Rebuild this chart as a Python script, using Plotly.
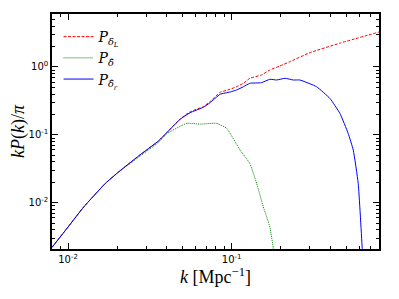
import plotly.graph_objects as go

# ---- data ----
k_blue = [0.00798, 0.01, 0.01248, 0.0169, 0.0204, 0.027, 0.0358, 0.0483, 0.0556, 0.0671,
          0.0736, 0.0849, 0.0977, 0.107, 0.118, 0.129, 0.152, 0.171, 0.188, 0.212, 0.238,
          0.261, 0.330, 0.398, 0.458, 0.515, 0.553, 0.593, 0.628, 0.635]
p_blue = [0.00221, 0.0044, 0.00871, 0.0193, 0.0286, 0.049, 0.082, 0.169, 0.212, 0.255,
          0.297, 0.396, 0.428, 0.458, 0.512, 0.575, 0.587, 0.659, 0.643, 0.681, 0.643,
          0.643, 0.512, 0.345, 0.208, 0.105, 0.0597, 0.0193, 0.0020, 0.001]

k_red = [0.00798, 0.01, 0.01248, 0.0169, 0.0204, 0.027, 0.0358, 0.0483, 0.0556, 0.0671,
         0.0736, 0.0849, 0.0977, 0.107, 0.118, 0.129, 0.152, 0.171, 0.197, 0.227, 0.301,
         0.458, 0.798]
p_red = [0.00221, 0.0044, 0.00871, 0.0193, 0.0286, 0.049, 0.082, 0.170, 0.219, 0.26,
         0.308, 0.423, 0.469, 0.512, 0.575, 0.681, 0.762, 0.903, 1.034, 1.197, 1.626,
         2.24, 3.28]

k_green = [0.00798, 0.01, 0.01248, 0.0169, 0.0204, 0.027, 0.0358, 0.0401, 0.0531, 0.064,
           0.0809, 0.0932, 0.1125, 0.129, 0.142, 0.156, 0.171, 0.179, 0.183]
p_green = [0.00221, 0.0044, 0.00871, 0.0193, 0.0284, 0.047, 0.078, 0.104, 0.148, 0.144,
           0.148, 0.125, 0.0597, 0.038, 0.0193, 0.0087, 0.00441, 0.00224, 0.001]

x_major = [0.01, 0.1]
x_major_text = ["10<sup>-2</sup>", "10<sup>-1</sup>"]
y_major = [0.01, 0.1, 1]
y_major_text = ["10<sup>-2</sup>", "10<sup>-1</sup>", "10<sup>0</sup>"]

x_minor = [m * d for d in (0.001, 0.01, 0.1) for m in range(2, 10)]
y_minor = [m * d for d in (0.001, 0.01, 0.1, 1) for m in range(2, 10)]

serif = "DejaVu Serif"

fig = go.Figure()
fig.add_trace(go.Scatter(x=k_red, y=p_red, mode="lines",
                         line=dict(color="#ff0000", width=1, dash="3px,1.5px",
                                   shape="spline", smoothing=0.4),
                         name="<i>P</i><sub><i>δ</i><sub><i>L</i></sub></sub>"))
fig.add_trace(go.Scatter(x=k_green, y=p_green, mode="lines",
                         line=dict(color="#008000", width=1, dash="1px,1px",
                                   shape="spline", smoothing=0.4),
                         name="<i>P</i><sub><i>δ̂</i></sub>"))
fig.add_trace(go.Scatter(x=k_blue, y=p_blue, mode="lines",
                         line=dict(color="#0000ff", width=1, shape="spline", smoothing=0.4),
                         name="<i>P</i><sub><i>δ̂</i><sub><i>r</i></sub></sub>"))

axis_common = dict(showline=True, linecolor="black", linewidth=1.5, mirror="ticks",
                   ticks="inside", ticklen=6, tickwidth=1, tickcolor="black",
                   showgrid=False, zeroline=False, automargin=False,
                   tickfont=dict(family="DejaVu Sans", size=10, color="black"))

fig.update_xaxes(type="log", range=[-2.098, -0.1], tickvals=x_major, ticktext=x_major_text,
                 minor=dict(tickvals=x_minor, ticks="inside", ticklen=3, tickcolor="black",
                            showgrid=False),
                 title=dict(text="<i>k</i> [Mpc<sup>−1</sup>]",
                            font=dict(family="Liberation Serif", size=18, color="black"),
                            standoff=6),
                 **axis_common)
fig.update_yaxes(type="log", range=[-2.68, 0.78], tickvals=y_major, ticktext=y_major_text,
                 minor=dict(tickvals=y_minor, ticks="inside", ticklen=3, tickcolor="black",
                            showgrid=False),
                 title=dict(text="<i>kP</i>(<i>k</i>)/<i>π</i>",
                            font=dict(family="Liberation Serif", size=18, color="black"),
                            standoff=4),
                 **axis_common)

# page body has an 8px margin in the 399x299 window -> figure sized 391x291
fig.update_layout(width=391, height=291, margin=dict(l=44, r=20, t=6, b=50),
                  plot_bgcolor="white", paper_bgcolor="white",
                  legend=dict(x=0.02, y=0.97, xanchor="left", yanchor="top",
                              bgcolor="rgba(0,0,0,0)", borderwidth=0,
                              font=dict(family=serif, size=14, color="black"),
                              tracegroupgap=0))

fig.write_html("out.html")
